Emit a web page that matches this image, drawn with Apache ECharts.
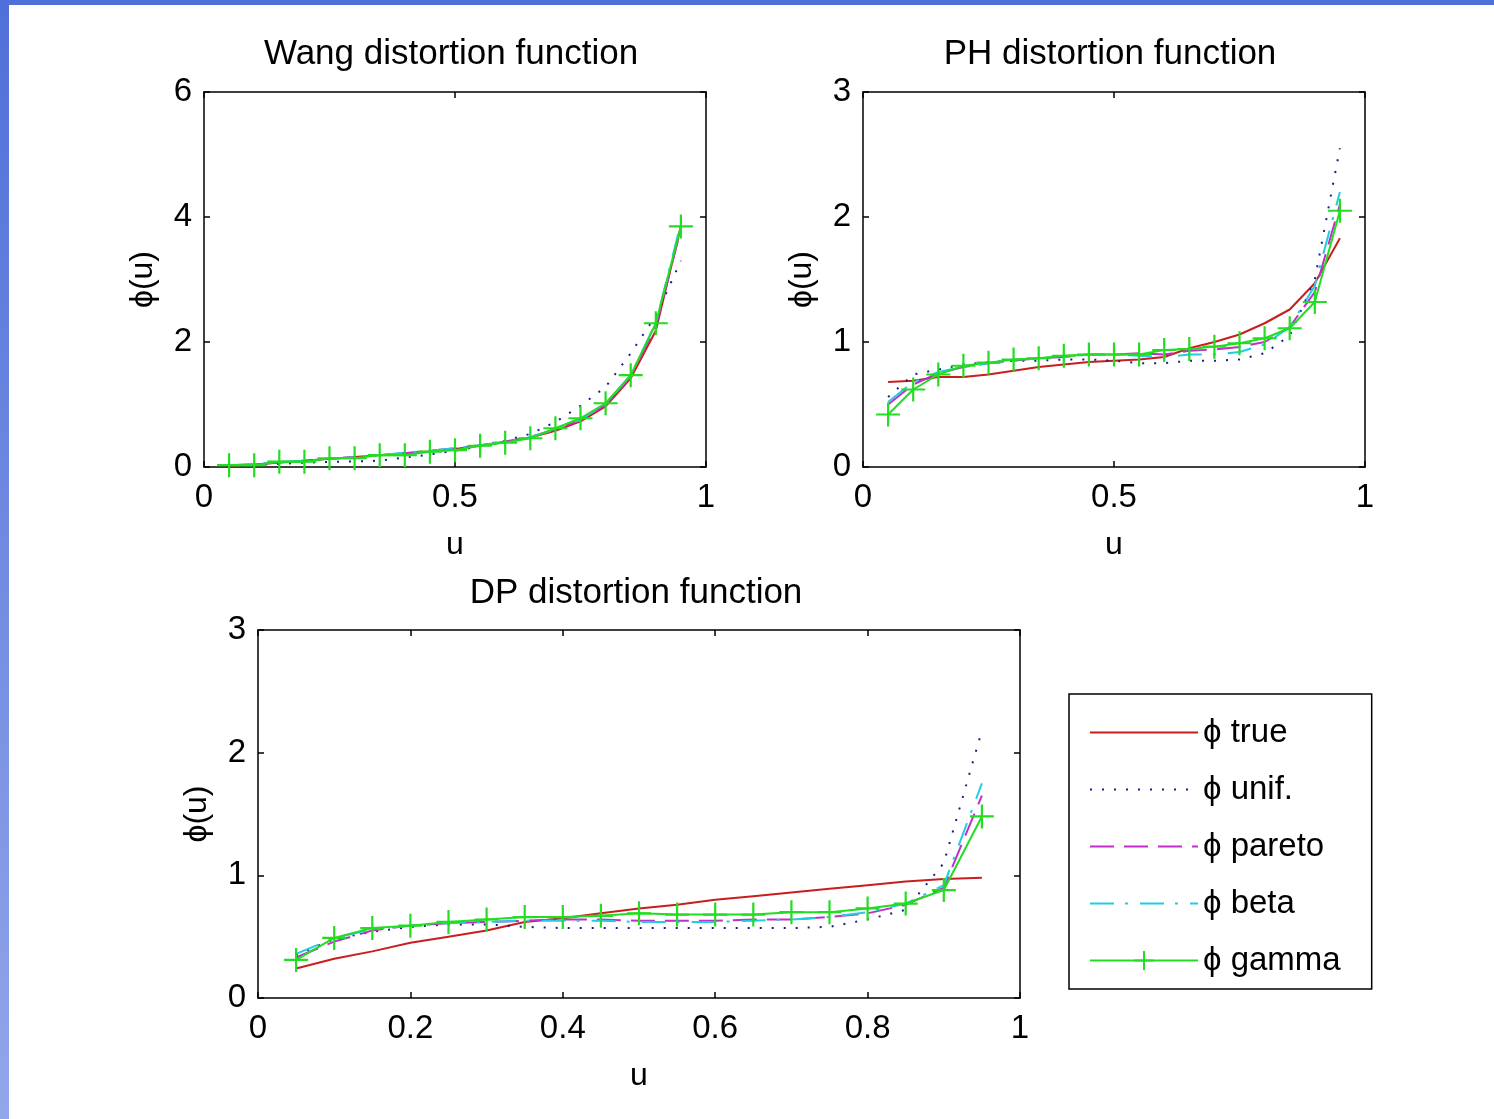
<!DOCTYPE html>
<html>
<head>
<meta charset="utf-8">
<script src="https://cdn.jsdelivr.net/npm/echarts@6/dist/echarts.min.js"></script>
<style>
html,body{margin:0;padding:0;background:#fff;}
#c{width:1494px;height:1119px;}
</style>
</head>
<body>
<div id="c"></div>
<script>
// ---- data ----
const u = [0.05,0.10,0.15,0.20,0.25,0.30,0.35,0.40,0.45,0.50,0.55,0.60,0.65,0.70,0.75,0.80,0.85,0.90,0.95];

const wangTrue   = [0.02,0.04,0.07,0.10,0.13,0.16,0.19,0.22,0.25,0.29,0.34,0.40,0.47,0.58,0.73,0.97,1.42,2.18,3.85];
const wangUnif   = [0.02,0.03,0.05,0.07,0.08,0.09,0.10,0.15,0.20,0.26,0.33,0.42,0.53,0.72,0.98,1.28,1.82,2.42,3.30];
const wangPareto = [0.03,0.04,0.07,0.10,0.13,0.16,0.19,0.22,0.26,0.30,0.35,0.41,0.48,0.60,0.75,0.99,1.45,2.25,3.80];
const wangBeta   = [0.03,0.05,0.08,0.10,0.13,0.16,0.19,0.23,0.26,0.30,0.35,0.40,0.48,0.60,0.76,1.00,1.47,2.30,3.90];
const wangGamma  = [0.03,0.03,0.085,0.085,0.14,0.14,0.19,0.19,0.245,0.27,0.34,0.39,0.46,0.62,0.78,1.02,1.47,2.30,3.85];

const phTrue   = [0.68,0.69,0.72,0.72,0.74,0.77,0.80,0.82,0.84,0.85,0.86,0.88,0.95,1.00,1.06,1.15,1.26,1.47,1.83];
const phUnif   = [0.56,0.74,0.78,0.82,0.84,0.85,0.85,0.86,0.86,0.85,0.83,0.83,0.85,0.85,0.86,0.91,1.05,1.50,2.55];
const phPareto = [0.50,0.66,0.75,0.80,0.83,0.85,0.87,0.88,0.90,0.90,0.91,0.90,0.93,0.94,0.96,1.00,1.12,1.40,2.10];
const phBeta   = [0.52,0.68,0.76,0.80,0.83,0.85,0.87,0.88,0.90,0.90,0.89,0.88,0.90,0.90,0.92,0.98,1.12,1.45,2.20];
const phGamma  = [0.42,0.62,0.74,0.81,0.835,0.86,0.87,0.89,0.90,0.90,0.90,0.936,0.944,0.963,0.99,1.03,1.11,1.32,2.05];

const dpTrue   = [0.24,0.32,0.38,0.45,0.50,0.55,0.62,0.65,0.69,0.73,0.76,0.80,0.83,0.86,0.89,0.92,0.95,0.97,0.98];
const dpUnif   = [0.35,0.48,0.54,0.58,0.60,0.60,0.58,0.57,0.57,0.57,0.57,0.57,0.57,0.57,0.58,0.64,0.72,1.10,2.18];
const dpPareto = [0.33,0.46,0.55,0.59,0.61,0.62,0.63,0.64,0.64,0.63,0.63,0.63,0.64,0.64,0.66,0.69,0.76,0.90,1.65];
const dpBeta   = [0.36,0.49,0.56,0.59,0.61,0.62,0.63,0.63,0.63,0.62,0.62,0.62,0.63,0.64,0.66,0.70,0.77,0.92,1.75];
const dpGamma  = [0.31,0.49,0.57,0.59,0.62,0.64,0.66,0.66,0.67,0.69,0.68,0.68,0.68,0.70,0.70,0.73,0.77,0.88,1.48];

const titles = ['Wang distortion function','PH distortion function','DP distortion function'];
const seriesNames = ['ϕ true','ϕ unif.','ϕ pareto','ϕ beta','ϕ gamma'];
const xTicks = [[0,1,0.5],[0,1,0.5],[0,1,0.2]];
const yTicks = [[0,6,2],[0,3,1],[0,3,1]];
const panels = [
  [wangTrue,wangUnif,wangPareto,wangBeta,wangGamma],
  [phTrue,phUnif,phPareto,phBeta,phGamma],
  [dpTrue,dpUnif,dpPareto,dpBeta,dpGamma]
];

// ---- styles ----
const FONT = 'Liberation Sans';
const grids = [
  {left:204, top:92, width:502, height:375},
  {left:863, top:92, width:502, height:375},
  {left:258, top:630, width:762, height:368}
];
const styles = [
  {color:'#c81e1e', type:'solid'},
  {color:'#1c1c88', type:[2,10]},
  {color:'#c030c8', type:[24,10]},
  {color:'#22cce6', type:[24,11,3,12]},
  {color:'#22dd22', type:'solid'}
];
const plusPath = 'path://M0,10 L20,10 M10,0 L10,20';

const xAxes = [], yAxes = [], series = [];
grids.forEach((g, gi) => {
  const [xmin,xmax,xint] = xTicks[gi];
  const [ymin,ymax,yint] = yTicks[gi];
  const lineCommon = {show:true, onZero:false, lineStyle:{color:'#000', width:1.5}};
  const tickCommon = {show:true, inside:true, length:6, lineStyle:{color:'#000', width:1.5}};
  xAxes.push({type:'value', gridIndex:gi, position:'bottom', min:xmin, max:xmax, interval:xint,
    axisLine:lineCommon, axisTick:tickCommon, splitLine:{show:false},
    axisLabel:{color:'#000', fontSize:33, fontFamily:FONT, margin:14, hideOverlap:false},
    name:'u', nameLocation:'middle', nameGap:62, nameTextStyle:{color:'#000', fontSize:32, fontFamily:FONT}});
  xAxes.push({type:'value', gridIndex:gi, position:'top', min:xmin, max:xmax, interval:xint,
    axisLine:lineCommon, axisTick:tickCommon, splitLine:{show:false}, axisLabel:{show:false}});
  yAxes.push({type:'value', gridIndex:gi, position:'left', min:ymin, max:ymax, interval:yint,
    axisLine:lineCommon, axisTick:tickCommon, splitLine:{show:false},
    axisLabel:{color:'#000', fontSize:33, fontFamily:FONT, margin:12, hideOverlap:false},
    name:'ϕ(u)', nameLocation:'middle', nameGap:45, nameRotate:90,
    nameTextStyle:{color:'#000', fontSize:32, fontFamily:FONT}});
  yAxes.push({type:'value', gridIndex:gi, position:'right', min:ymin, max:ymax, interval:yint,
    axisLine:lineCommon, axisTick:tickCommon, splitLine:{show:false}, axisLabel:{show:false}});

  panels[gi].forEach((vals, si) => {
    const isGamma = si === 4;
    series.push({
      type:'line', name:seriesNames[si], xAxisIndex:2*gi, yAxisIndex:2*gi,
      data: u.map((x,i) => [x, vals[i]]),
      symbol: isGamma ? plusPath : 'none',
      symbolSize: 24,
      itemStyle: {color: styles[si].color, borderColor: styles[si].color, borderWidth: 2.2},
      lineStyle: {color: styles[si].color, type: styles[si].type, width: 2},
      silent:true, animation:false, z: 2 + si
    });
  });
});

const legendData = seriesNames.map((n, i) => i === 4 ? {name:n} : {name:n, itemStyle:{opacity:0}});

const chart = echarts.init(document.getElementById('c'), null, {renderer:'canvas'});
chart.setOption({
  animation:false,
  backgroundColor:'#fff',
  title: [
    {text:titles[0], left:446, top:32, textAlign:'center', textStyle:{fontSize:35, fontWeight:'normal', color:'#000', fontFamily:FONT}},
    {text:titles[1], left:1105, top:32, textAlign:'center', textStyle:{fontSize:35, fontWeight:'normal', color:'#000', fontFamily:FONT}},
    {text:titles[2], left:631, top:571, textAlign:'center', textStyle:{fontSize:35, fontWeight:'normal', color:'#000', fontFamily:FONT}}
  ],
  grid: grids.map(g => Object.assign({containLabel:false}, g)),
  xAxis: xAxes,
  yAxis: yAxes,
  legend: {
    orient:'vertical', left:1069, top:694,
    data: legendData,
    itemWidth:108, itemHeight:24, itemGap:24,
    padding:[22,31,12,20],
    borderColor:'#000', borderWidth:1.5, backgroundColor:'#fff',
    textStyle:{fontSize:33, color:'#000', fontFamily:FONT},
    selectedMode:false
  },
  graphic: [
    {type:'rect', left:0, top:0, shape:{width:1494, height:5}, style:{fill:'#4f70d8'}, z:100},
    {type:'rect', left:0, top:0, shape:{width:9, height:1119},
      style:{fill:new echarts.graphic.LinearGradient(0,0,0,1,[{offset:0,color:'#4f70d8'},{offset:1,color:'#93a6ea'}])}, z:100}
  ],
  series: series
});
</script>
</body>
</html>
